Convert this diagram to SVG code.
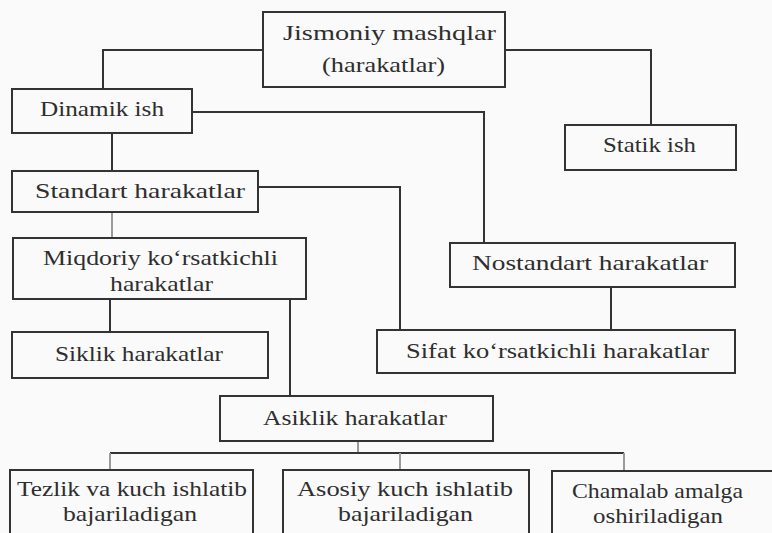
<svg xmlns="http://www.w3.org/2000/svg" width="772" height="533" viewBox="0 0 772 533">
<style>
.box{fill:none;stroke:#333;stroke-width:2}
.ln{fill:none;stroke:#333;stroke-width:2}
.fl{fill:none;stroke:#9a9a9a;stroke-width:2}
text{font-family:"Liberation Serif","DejaVu Serif",serif;font-size:21px;fill:#2e2e2e}
</style>
<rect width="772" height="533" fill="#fafafa"/>
<g id="connectors">
<polyline class="ln" points="263,50 103,50 103,89"/>
<polyline class="ln" points="505,50 651,50 651,125"/>
<polyline class="ln" points="192,112 484,112 484,243"/>
<line class="ln" x1="112" y1="133" x2="112" y2="171"/>
<polyline class="ln" points="258,187 400,187 400,330"/>
<line class="fl" x1="112" y1="212" x2="112" y2="238"/>
<line class="ln" x1="110" y1="299" x2="110" y2="332"/>
<line class="ln" x1="290" y1="299" x2="290" y2="396"/>
<line class="ln" x1="611" y1="287" x2="611" y2="330"/>
<line class="fl" x1="358" y1="441" x2="358" y2="453"/>
<line class="ln" x1="110" y1="453" x2="624" y2="453"/>
<line class="fl" x1="110" y1="453" x2="110" y2="470"/>
<line class="fl" x1="400" y1="453" x2="400" y2="470"/>
<line class="fl" x1="624" y1="453" x2="624" y2="471"/>
</g>
<g id="jismoniy">
<rect class="box" x="263" y="12" width="242" height="75"/>
<text x="283" y="40" textLength="213" lengthAdjust="spacingAndGlyphs">Jismoniy mashqlar</text>
<text x="322" y="72" textLength="123" lengthAdjust="spacingAndGlyphs">(harakatlar)</text>
</g>
<g id="dinamik">
<rect class="box" x="12" y="89" width="180" height="44"/>
<text x="40" y="116" textLength="124" lengthAdjust="spacingAndGlyphs">Dinamik ish</text>
</g>
<g id="statik">
<rect class="box" x="565" y="125" width="171" height="45"/>
<text x="603" y="152" textLength="93" lengthAdjust="spacingAndGlyphs">Statik ish</text>
</g>
<g id="standart">
<rect class="box" x="12" y="171" width="246" height="41"/>
<text x="35" y="198" textLength="210" lengthAdjust="spacingAndGlyphs">Standart harakatlar</text>
</g>
<g id="miqdoriy">
<rect class="box" x="13" y="238" width="293" height="61"/>
<text x="43" y="265" textLength="235" lengthAdjust="spacingAndGlyphs">Miqdoriy ko‘rsatkichli</text>
<text x="110" y="291" textLength="103" lengthAdjust="spacingAndGlyphs">harakatlar</text>
</g>
<g id="siklik">
<rect class="box" x="12" y="332" width="256" height="46"/>
<text x="55" y="361" textLength="168" lengthAdjust="spacingAndGlyphs">Siklik harakatlar</text>
</g>
<g id="nostandart">
<rect class="box" x="450" y="243" width="285" height="44"/>
<text x="472" y="270" textLength="236" lengthAdjust="spacingAndGlyphs">Nostandart harakatlar</text>
</g>
<g id="sifat">
<rect class="box" x="377" y="330" width="358" height="43"/>
<text x="406" y="358" textLength="303" lengthAdjust="spacingAndGlyphs">Sifat ko‘rsatkichli harakatlar</text>
</g>
<g id="asiklik">
<rect class="box" x="220" y="396" width="273" height="45"/>
<text x="263" y="425" textLength="184" lengthAdjust="spacingAndGlyphs">Asiklik harakatlar</text>
</g>
<g id="tezlik">
<rect class="box" x="10" y="470" width="243" height="70"/>
<text x="17" y="496" textLength="230" lengthAdjust="spacingAndGlyphs">Tezlik va kuch ishlatib</text>
<text x="63" y="521" textLength="134" lengthAdjust="spacingAndGlyphs">bajariladigan</text>
</g>
<g id="asosiy">
<rect class="box" x="283" y="470" width="246" height="70"/>
<text x="297" y="496" textLength="216" lengthAdjust="spacingAndGlyphs">Asosiy kuch ishlatib</text>
<text x="338" y="521" textLength="135" lengthAdjust="spacingAndGlyphs">bajariladigan</text>
</g>
<g id="chamalab">
<rect class="box" x="552" y="471" width="230" height="70"/>
<text x="572" y="498" textLength="171" lengthAdjust="spacingAndGlyphs">Chamalab amalga</text>
<text x="593" y="523" textLength="130" lengthAdjust="spacingAndGlyphs">oshiriladigan</text>
</g>
</svg>
